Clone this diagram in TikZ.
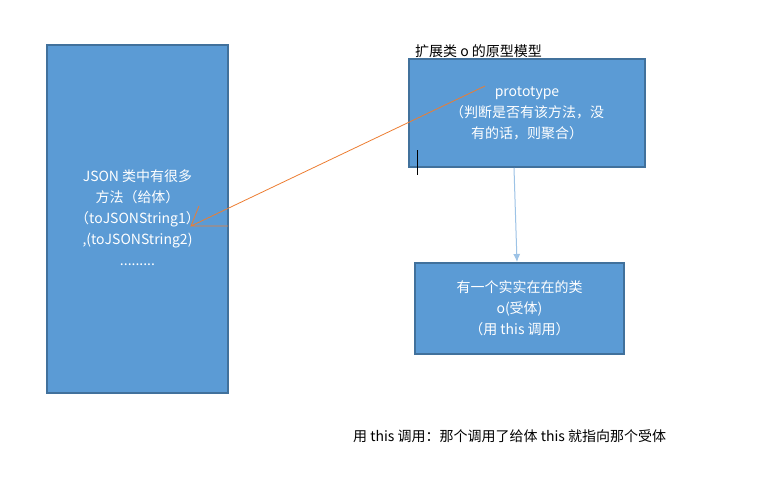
\documentclass[tikz,border=0pt]{standalone}
\usepackage{fontspec}
\setmainfont{Noto Sans CJK SC}
\usetikzlibrary{arrows.meta}
\begin{document}
\begin{tikzpicture}[x=1pt,y=-1pt,
  box/.style={draw=boxedge,fill=boxfill,line width=1.5pt,inner sep=0pt},
  txt/.style={text=white,font=\fontsize{14}{21}\selectfont,align=center}]
\definecolor{boxfill}{HTML}{5B9BD5}
\definecolor{boxedge}{HTML}{41719C}
\definecolor{orangeline}{HTML}{ED7D31}
\definecolor{blueline}{HTML}{9DC3E6}
\useasboundingbox (0,0) rectangle (772,493);
\fill[white] (0,0) rectangle (772,493);
\node[box,minimum width=181,minimum height=348] (L) at (137.5,219) {};
\node[txt] (Lt) at (137.5,218) {JSON 类中有很多\\方法（给体）\\（toJSONString1）\\,(toJSONString2)\\.........};
\node[box,minimum width=236,minimum height=108] (P) at (527,113) {};
\node[txt] (Pt) at (527,113) {prototype\\（判断是否有该方法，没\\有的话，则聚合）};
\node[font=\fontsize{14}{16}\selectfont,anchor=south west,inner sep=0pt] (Ph) at (415,58) {扩展类 o 的原型模型};
\node[box,minimum width=209,minimum height=91] (B) at (519.5,308.5) {};
\node[txt] (Bt) at (519.5,308.5) {有一个实实在在的类\\o(受体)\\（用 this 调用）};
\node[font=\fontsize{14}{16}\selectfont,anchor=west,inner sep=0pt] (N) at (353,436) {用 this 调用：那个调用了给体 this 就指向那个受体};
\coordinate (s) at (485,86);
\coordinate (e) at (191,226);
\coordinate (h1) at (199,206);
\coordinate (h2) at (228,226);
\draw[orangeline,line width=0.8pt] (s) -- (e) -- (h1) (e) -- (h2);
\draw[black,line width=0.6pt] (417,150) -- (417,175);
\coordinate (a1) at (514,168);
\coordinate (a2) at (517,262);
\draw[blueline,line width=1pt,-{Latex[length=8pt,width=7pt]}] (a1) -- (a2);
\end{tikzpicture}
\end{document}
